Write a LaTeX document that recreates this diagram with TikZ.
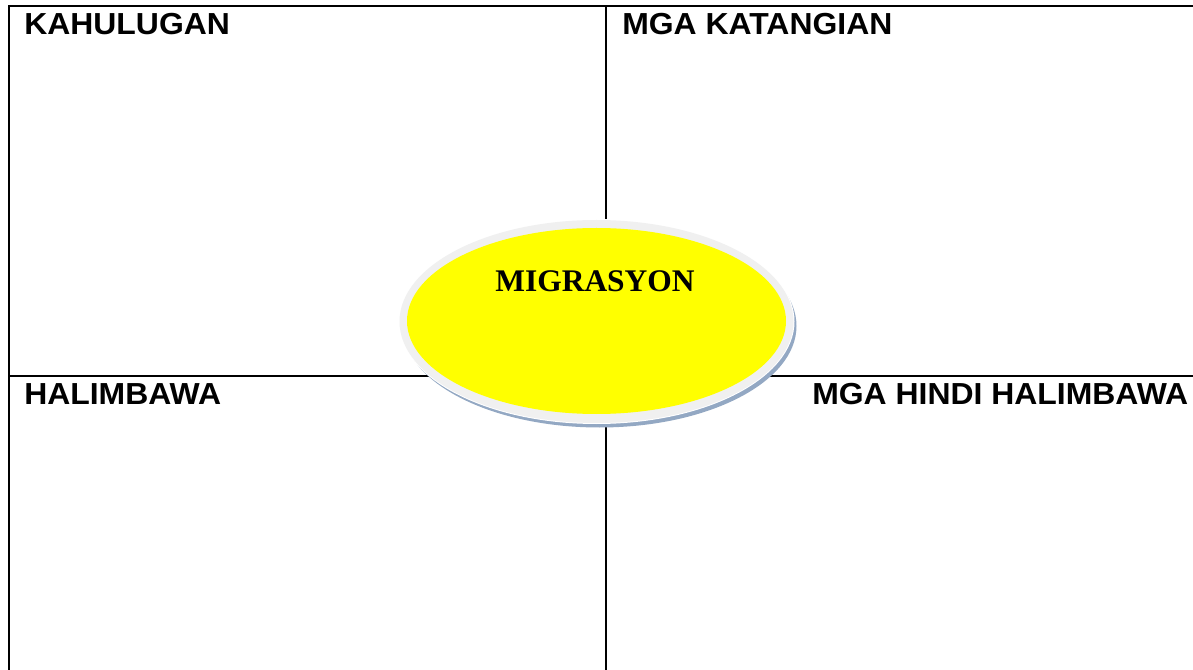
\documentclass[tikz,border=0pt]{standalone}
\usepackage{fontspec}
\setmainfont{Liberation Serif}
\newfontfamily\quadfont{Liberation Sans}[FakeStretch=1.05]
\usepackage{xcolor}
\usetikzlibrary{shapes,positioning}

\definecolor{hubyellow}{HTML}{FFFF00}
\definecolor{hubring}{HTML}{F0F0F0}
\definecolor{hubshade}{HTML}{93A8C3}

\begin{document}
\begin{tikzpicture}[
    x=0.75pt, y=-0.75pt,
    gridline/.style={draw=black, line width=1.5pt},
    quadlabel/.style={anchor=base west, inner sep=0pt, font=\quadfont\bfseries\fontsize{22.8}{27}\selectfont},
    hubtext/.style={anchor=base, inner sep=0pt, font=\bfseries\fontsize{23.6}{28}\selectfont}
]
\useasboundingbox (0,0) rectangle (1193,670);
% frame and cross
\draw[gridline] (1193,6) -- (9,6) -- (9,670);
\draw[gridline] (606,6) -- (606,670);
\draw[gridline] (9,376) -- (1193,376);
% central ellipse with rim and shadow
\fill[hubshade] (599.5,326) ellipse [x radius=197, y radius=101.5];
\fill[white] (596.5,321.5) ellipse [x radius=198, y radius=102.5];
\fill[hubring] (596.5,321.5) ellipse [x radius=197, y radius=101.5];
\fill[hubyellow] (596.5,321) ellipse [x radius=189.5, y radius=93];
\node[hubtext] (migrasyon) at (595,292) {MIGRASYON};
% quadrant labels
\node[quadlabel] (kahulugan) at (24,35) {KAHULUGAN};
\node[quadlabel] (katangian) at (622,35) {MGA KATANGIAN};
\node[quadlabel] (halimbawa) at (24,405) {HALIMBAWA};
\node[quadlabel] (hindi) at (812,405) {MGA HINDI HALIMBAWA};
\end{tikzpicture}
\end{document}
